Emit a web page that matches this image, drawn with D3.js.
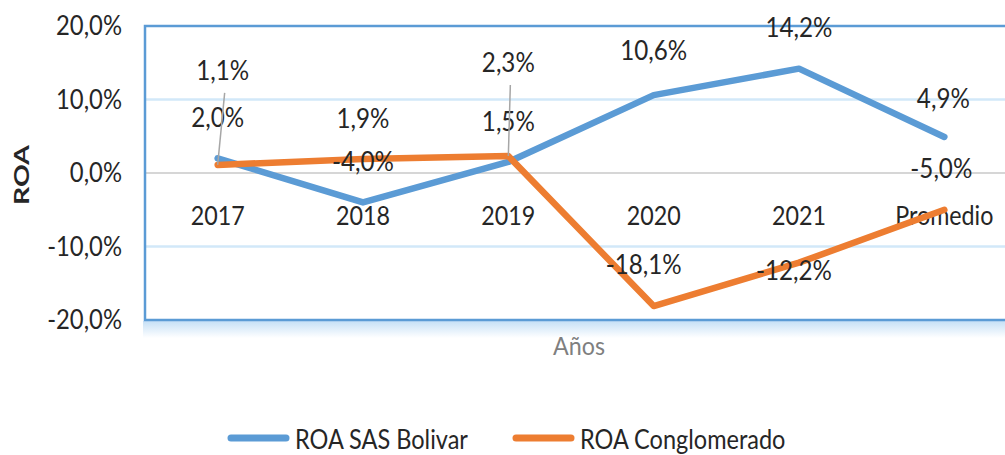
<!DOCTYPE html>
<html>
<head>
<meta charset="utf-8">
<script src="https://cdn.jsdelivr.net/npm/d3@7"></script>
<style>
  html, body { margin: 0; padding: 0; background: #ffffff; }
  svg { display: block; }
  text { font-family: Lato, "Open Sans", "Liberation Sans", sans-serif; }
</style>
</head>
<body>
<svg id="chart" width="1005" height="455"></svg>
<script>
// Series values (percent)
const categories = ["2017", "2018", "2019", "2020", "2021", "Promedio"];
const roaBolivar = [2.0, -4.0, 1.5, 10.6, 14.2, 4.9];
const roaConglomerado = [1.1, 1.9, 2.3, -18.1, -12.2, -5.0];
const yTicks = [-20, -10, 0, 10, 20];
const seriesNames = ["ROA SAS Bolivar", "ROA Conglomerado"];
const axisTitles = { x: "Años", y: "ROA" };

// Data-label placement relative to each point (pixels)
const labelShiftBolivar = [[0, -41], [0, -41], [0, -41], [0, -45], [0, -41], [-1, -39]];
const labelShiftConglomerado = [[5, -95], [0, -41], [0, -94], [-10, -42], [-5, 8], [-3, -41]];

const W = 1005, H = 455;
const plot = { left: 145, right: 1017, top: 26, bottom: 320 };
const colors = { bolivar: "#5B9BD5", conglomerado: "#ED7D31", text: "#262626" };

// Spanish number style: decimal comma, plain hyphen for negatives
const fmt = v => d3.format(".1f")(v).replace(".", ",").replace("\u2212", "-") + "%";

const svg = d3.select("#chart");

// Condensed type: each group of texts is narrowed so a sample string spans a set width
function measure(str, size, weight) {
  const t = svg.append("text").attr("font-size", size).attr("font-weight", weight || "normal").text(str);
  const w = t.node().getComputedTextLength();
  t.remove();
  return w;
}
function condense(sel, sx) {
  sel.each(function () {
    const t = d3.select(this);
    const xv = +t.attr("x") || 0;
    t.attr("transform", `translate(${xv * (1 - sx)},0) scale(${sx},1)`);
  });
}

const x = d3.scaleBand().domain(categories).range([plot.left, plot.right]);
const cx = c => x(c) + x.bandwidth() / 2;
const y = d3.scaleLinear().domain([-20, 20]).range([plot.bottom, plot.top]);

// Soft shadow under the plot frame
const defs = svg.append("defs");
const grad = defs.append("linearGradient").attr("id", "frameShade")
  .attr("x1", 0).attr("y1", 0).attr("x2", 0).attr("y2", 1);
grad.append("stop").attr("offset", "0%").attr("stop-color", "#c6e0f6");
grad.append("stop").attr("offset", "100%").attr("stop-color", "#ffffff");
svg.append("rect")
  .attr("x", plot.left - 2).attr("y", plot.bottom + 1)
  .attr("width", W - plot.left + 2).attr("height", 17)
  .attr("fill", "url(#frameShade)");

// Gridlines
svg.append("g").selectAll("line")
  .data(yTicks.filter(t => t !== 0 && t !== 20 && t !== -20))
  .join("line")
  .attr("x1", plot.left).attr("x2", plot.right)
  .attr("y1", d => y(d)).attr("y2", d => y(d))
  .attr("stroke", "#d2e8f9").attr("stroke-width", 2.5);

// Zero line
svg.append("line")
  .attr("x1", plot.left).attr("x2", plot.right)
  .attr("y1", y(0)).attr("y2", y(0))
  .attr("stroke", "#d6d6d6").attr("stroke-width", 2);

// Plot frame
svg.append("rect")
  .attr("x", plot.left).attr("y", plot.top)
  .attr("width", plot.right - plot.left).attr("height", plot.bottom - plot.top)
  .attr("fill", "none").attr("stroke", colors.bolivar).attr("stroke-width", 2.5);

const numSize = 27;

// Y axis tick labels
const yAxis = d3.axisLeft(y).tickValues(yTicks).tickSize(0).tickPadding(0).tickFormat(fmt);
const yg = svg.append("g").attr("transform", `translate(122,0)`).call(yAxis);
yg.select(".domain").remove();
yg.selectAll("text")
  .attr("font-size", numSize).attr("fill", colors.text)
  .attr("font-family", "Lato, 'Open Sans', sans-serif");
condense(yg.selectAll("text"), 66 / measure("20,0%", numSize));

// Y axis title (rotated; narrowed across its letters)
const ySize = 27;
const yLen = measure(axisTitles.y, ySize, "bold");
svg.append("text")
  .attr("transform", `translate(21,${y(0) + 2}) rotate(-90) scale(${60 / yLen},0.78)`)
  .attr("text-anchor", "middle").attr("dy", "0.36em")
  .attr("font-size", ySize).attr("font-weight", "bold").attr("fill", colors.text)
  .text(axisTitles.y);

// Category labels sit below the zero line
const catText = svg.append("g").selectAll("text")
  .data(categories).join("text")
  .attr("x", d => cx(d)).attr("y", 215)
  .attr("dy", "0.36em")
  .attr("text-anchor", "middle")
  .attr("font-size", numSize).attr("fill", colors.text)
  .text(d => d);
condense(catText, 54 / measure("2017", numSize));

// X axis title
const xTitle = svg.append("text")
  .attr("x", 579).attr("y", 346).attr("dy", "0.36em")
  .attr("text-anchor", "middle")
  .attr("font-size", 25).attr("fill", "#7f7f7f")
  .text(axisTitles.x);
condense(xTitle, 52 / measure(axisTitles.x, 25));

// Lines
const line = d3.line().x((d, i) => cx(categories[i])).y(d => y(d));
svg.append("path").datum(roaBolivar)
  .attr("d", line).attr("fill", "none")
  .attr("stroke", colors.bolivar).attr("stroke-width", 6.5)
  .attr("stroke-linejoin", "round").attr("stroke-linecap", "round");
svg.append("path").datum(roaConglomerado)
  .attr("d", line).attr("fill", "none")
  .attr("stroke", colors.conglomerado).attr("stroke-width", 6.5)
  .attr("stroke-linejoin", "round").attr("stroke-linecap", "round");

// Data labels (with leader lines where a label sits far from its point)
const labelSx = 67 / measure("14,2%", numSize);
function drawLabels(values, shifts) {
  const g = svg.append("g");
  values.forEach((v, i) => {
    const px = cx(categories[i]), py = y(v);
    const lx = px + shifts[i][0], ly = py + shifts[i][1];
    if (Math.abs(shifts[i][1]) > 60) {
      g.append("line")
        .attr("x1", lx + 2).attr("y1", ly + 23)
        .attr("x2", px).attr("y2", py)
        .attr("stroke", "#a6a6a6").attr("stroke-width", 1.5);
    }
    g.append("text")
      .attr("x", lx).attr("y", ly).attr("dy", "0.36em")
      .attr("text-anchor", "middle")
      .attr("font-size", numSize).attr("fill", colors.text)
      .text(fmt(v));
  });
  condense(g.selectAll("text"), labelSx);
}
drawLabels(roaBolivar, labelShiftBolivar);
drawLabels(roaConglomerado, labelShiftConglomerado);

// Legend
const legSize = 27;
const legSx = 173 / measure(seriesNames[0], legSize);
const legendItems = [
  { name: seriesNames[0], color: colors.bolivar, x: 231 },
  { name: seriesNames[1], color: colors.conglomerado, x: 516 }
];
const legend = svg.append("g");
legendItems.forEach(it => {
  legend.append("line")
    .attr("x1", it.x).attr("x2", it.x + 55)
    .attr("y1", 438).attr("y2", 438)
    .attr("stroke", it.color).attr("stroke-width", 7)
    .attr("stroke-linecap", "round");
  const t = legend.append("text")
    .attr("x", it.x + 64).attr("y", 439).attr("dy", "0.36em")
    .attr("font-size", legSize).attr("fill", colors.text)
    .text(it.name);
  condense(t, legSx);
});
</script>
</body>
</html>
